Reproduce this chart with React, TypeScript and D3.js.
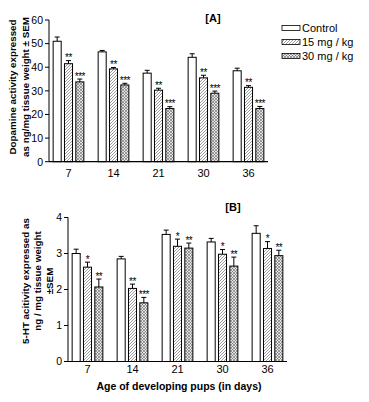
import React from "react";
import * as d3 from "d3";

const groups = ["7", "14", "21", "30", "36"];
const series = ["Control", "15 mg / kg", "30 mg / kg"];

// Panel A: dopamine
const daControl = [51, 46.5, 37.5, 44.2, 38.5];
const daControlErr = [1.8, 0.6, 1.2, 1.5, 1.1];
const da15 = [41.5, 39.3, 30.3, 35.5, 31.5];
const da15Err = [1.3, 0.6, 0.8, 1.1, 0.7];
const da30 = [33.8, 32.5, 22.5, 29, 22.5];
const da30Err = [1.2, 0.7, 0.8, 0.9, 0.9];
const daSig15 = ["**", "**", "**", "**", "**"];
const daSig30 = ["***", "***", "***", "***", "***"];
const daTicks = [0, 10, 20, 30, 40, 50, 60];

// Panel B: 5-HT
const htControl = [3.0, 2.85, 3.53, 3.32, 3.56];
const htControlErr = [0.12, 0.07, 0.12, 0.1, 0.21];
const ht15 = [2.62, 2.03, 3.2, 2.98, 3.14];
const ht15Err = [0.14, 0.12, 0.2, 0.13, 0.19];
const ht30 = [2.07, 1.63, 3.15, 2.65, 2.94];
const ht30Err = [0.22, 0.15, 0.14, 0.25, 0.15];
const htSig15 = ["*", "**", "*", "*", "*"];
const htSig30 = ["**", "***", "**", "**", "**"];
const htTicks = [0, 1, 2, 3, 4];

const FONT = "'Liberation Sans', Arial, sans-serif";
const fills = ["#ffffff", "url(#hatch)", "url(#cross)"];

type PanelProps = {
  left: number;
  right: number;
  top: number;
  bottom: number;
  max: number;
  ticks: number[];
  vals: number[][];
  errs: number[][];
  sigs: string[][];
  tickLabelY: number;
};

function Panel({ left, right, top, bottom, max, ticks, vals, errs, sigs, tickLabelY }: PanelProps) {
  const y = d3.scaleLinear().domain([0, max]).range([bottom, top]);
  const x = d3.scalePoint<string>().domain(groups).range([left + 19.5, left + 199.5]);
  const inner = d3.scaleBand<string>().domain(series).range([-17, 17]).paddingInner(0.29).paddingOuter(0.145);
  const bw = inner.bandwidth();
  return (
    <g>
      {groups.map((g, gi) =>
        series.map((s, si) => {
          const v = vals[si][gi];
          const e = errs[si][gi];
          const x0 = (x(g) as number) + (inner(s) as number);
          const cx = x0 + bw / 2;
          const yt = y(v);
          const ye = y(v + e);
          const sig = sigs[si][gi];
          return (
            <g key={g + s}>
              <line x1={cx} x2={cx} y1={yt} y2={ye} stroke="#000" strokeWidth={1} />
              <line x1={cx - 2.5} x2={cx + 2.5} y1={ye} y2={ye} stroke="#000" strokeWidth={1} />
              <rect x={x0} y={yt} width={bw} height={bottom - yt} fill={fills[si]} stroke="#000" strokeWidth={1} />
              {sig && (
                <text x={cx} y={ye + 0.5} fontSize={10} textAnchor="middle" fontFamily={FONT} letterSpacing={-0.5}>
                  {sig}
                </text>
              )}
            </g>
          );
        })
      )}
      <line x1={left} x2={left} y1={y(max)} y2={bottom} stroke="#000" strokeWidth={1} />
      <line x1={left} x2={right} y1={bottom} y2={bottom} stroke="#000" strokeWidth={1.2} />
      {ticks.map((t) => (
        <g key={t}>
          <line x1={left - 4} x2={left} y1={y(t)} y2={y(t)} stroke="#000" strokeWidth={1} />
          <text x={left - 6} y={y(t) + 3.8} fontSize={10.5} textAnchor="end" fontFamily={FONT}>
            {t}
          </text>
        </g>
      ))}
      {groups.map((g) => (
        <text key={g} x={x(g) as number} y={tickLabelY} fontSize={11} textAnchor="middle" fontFamily={FONT}>
          {g}
        </text>
      ))}
    </g>
  );
}

export default function App() {
  return (
    <svg width={369} height={402} style={{ position: "absolute", left: 0, top: 0, background: "#fff" }}>
      <defs>
        <pattern id="hatch" patternUnits="userSpaceOnUse" width={3} height={3}>
          <rect width={3} height={3} fill="#fff" />
          <path d="M-0.75,0.75 L0.75,-0.75 M0,3 L3,0 M2.25,3.75 L3.75,2.25" stroke="#555" strokeWidth={0.6} />
        </pattern>
        <pattern id="cross" patternUnits="userSpaceOnUse" width={3} height={3}>
          <rect width={3} height={3} fill="#e4e4e4" />
          <path d="M-0.75,0.75 L0.75,-0.75 M0,3 L3,0 M2.25,3.75 L3.75,2.25 M0,0 L3,3 M-0.75,2.25 L0.75,3.75 M2.25,-0.75 L3.75,0.75" stroke="#666" strokeWidth={0.6} />
        </pattern>
      </defs>

      <Panel
        left={49}
        right={268}
        top={20}
        bottom={161.7}
        max={60}
        ticks={daTicks}
        vals={[daControl, da15, da30]}
        errs={[daControlErr, da15Err, da30Err]}
        sigs={[["", "", "", "", ""], daSig15, daSig30]}
        tickLabelY={177}
      />
      <Panel
        left={68}
        right={287}
        top={217.5}
        bottom={361.5}
        max={4}
        ticks={htTicks}
        vals={[htControl, ht15, ht30]}
        errs={[htControlErr, ht15Err, ht30Err]}
        sigs={[["", "", "", "", ""], htSig15, htSig30]}
        tickLabelY={373}
      />

      <text x={213} y={22} fontSize={11} fontWeight="bold" textAnchor="middle" fontFamily={FONT}>[A]</text>
      <text x={233} y={211} fontSize={11} fontWeight="bold" textAnchor="middle" fontFamily={FONT}>[B]</text>

      {series.map((s, i) => (
        <g key={s}>
          <rect x={282} y={25.5 + i * 14} width={18} height={5} fill={fills[i]} stroke="#000" strokeWidth={0.8} />
          <text x={302} y={32 + i * 14} fontSize={11} fontFamily={FONT}>{s}</text>
        </g>
      ))}

      <g transform="translate(12,87) rotate(-90)">
        <text x={0} y={3.5} fontSize={9.8} fontWeight="bold" textAnchor="middle" fontFamily={FONT}>Dopamine activity expressed</text>
      </g>
      <g transform="translate(25,87) rotate(-90)">
        <text x={0} y={3.5} fontSize={9.8} fontWeight="bold" textAnchor="middle" fontFamily={FONT}>as ng/mg tissue weight ± SEM</text>
      </g>

      <g transform="translate(25,281) rotate(-90)">
        <text x={0} y={3.5} fontSize={9.8} fontWeight="bold" textAnchor="middle" fontFamily={FONT}>5-HT acitivity expressed as</text>
      </g>
      <g transform="translate(37,281) rotate(-90)">
        <text x={0} y={3.5} fontSize={9.8} fontWeight="bold" textAnchor="middle" fontFamily={FONT}>ng / mg tissue weight</text>
      </g>
      <g transform="translate(49,281) rotate(-90)">
        <text x={0} y={3.5} fontSize={9.8} fontWeight="bold" textAnchor="middle" fontFamily={FONT}>±SEM</text>
      </g>

      <text x={179} y={390} fontSize={10.5} fontWeight="bold" textAnchor="middle" fontFamily={FONT}>
        Age of developing pups (in days)
      </text>
    </svg>
  );
}
